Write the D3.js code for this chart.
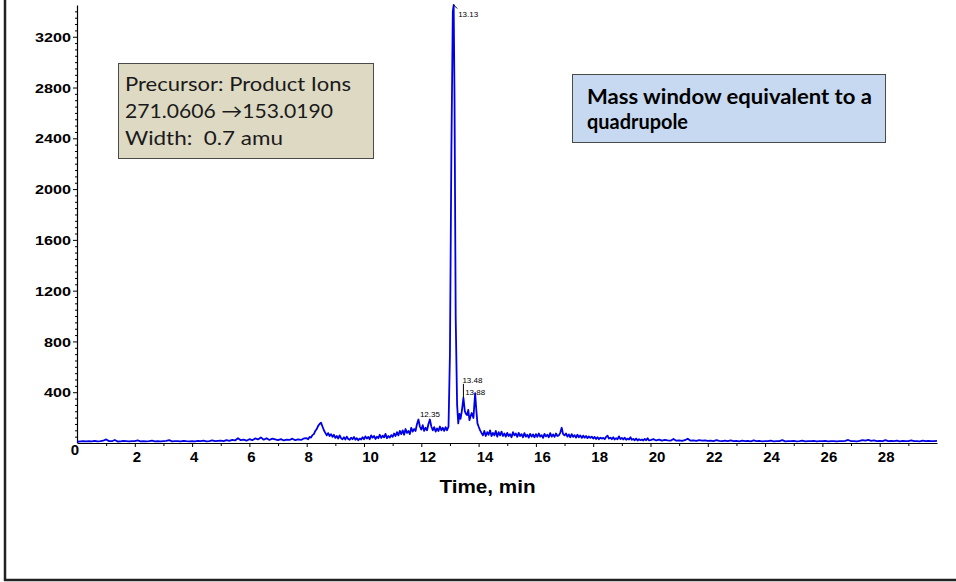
<!DOCTYPE html>
<html>
<head>
<meta charset="utf-8">
<script src="https://cdn.jsdelivr.net/npm/d3@7"></script>
<style>
  html, body { margin: 0; padding: 0; background: #fff; }
  svg { display: block; }
</style>
</head>
<body>
<svg id="chart" width="956" height="582"></svg>
<script>
// ---- data ----
const xTickLabels = [2, 4, 6, 8, 10, 12, 14, 16, 18, 20, 22, 24, 26, 28];
const yTickLabels = [400, 800, 1200, 1600, 2000, 2400, 2800, 3200];

// [time (min), intensity]
const trace = [
[0.0,10],[0.1,12],[0.2,14],[0.3,12],[0.4,15],[0.5,13],[0.6,16],[0.7,12],[0.8,14],[0.9,18],
[1.0,28],[1.1,15],[1.2,14],[1.3,24],[1.4,12],[1.5,13],[1.6,16],[1.7,14],[1.8,12],[1.9,15],
[2.0,14],[2.1,20],[2.2,13],[2.3,15],[2.4,12],[2.5,14],[2.6,18],[2.7,13],[2.8,15],[2.9,12],
[3.0,14],[3.1,16],[3.2,22],[3.3,13],[3.4,15],[3.5,14],[3.6,12],[3.7,16],[3.8,14],[3.9,13],
[4.0,15],[4.1,13],[4.2,16],[4.3,14],[4.4,18],[4.5,13],[4.6,15],[4.7,20],[4.8,14],[4.9,16],
[5.0,18],[5.1,14],[5.2,22],[5.3,16],[5.4,24],[5.5,20],[5.6,38],[5.7,22],[5.8,26],[5.9,18],
[6.0,30],[6.1,22],[6.2,36],[6.3,28],[6.4,44],[6.5,26],[6.6,38],[6.7,24],[6.8,34],[6.9,28],
[7.0,22],[7.1,30],[7.2,20],[7.3,26],[7.4,24],[7.5,34],[7.6,22],[7.7,28],[7.8,24],[7.9,36],
[8.00,38],[8.05,30],[8.10,48],[8.15,42],[8.20,62],[8.25,70],[8.30,95],[8.35,110],[8.40,135],[8.45,150],
[8.50,160],[8.55,130],[8.60,100],[8.65,80],[8.70,60],[8.75,78],[8.80,55],[8.85,70],[8.90,48],[8.95,65],
[9.00,40],[9.05,55],[9.10,35],[9.15,60],[9.20,38],[9.25,30],[9.30,45],[9.35,28],[9.40,50],[9.45,32],
[9.50,25],[9.55,42],[9.60,30],[9.65,48],[9.70,26],[9.75,38],[9.80,22],[9.85,35],[9.90,28],[9.95,45],
[10.00,30],[10.05,52],[10.10,35],[10.15,48],[10.20,30],[10.25,60],[10.30,42],[10.35,55],[10.40,32],[10.45,50],
[10.50,38],[10.55,65],[10.60,40],[10.65,58],[10.70,45],[10.75,72],[10.80,38],[10.85,55],[10.90,42],[10.95,62],
[11.00,48],[11.05,75],[11.10,55],[11.15,85],[11.20,60],[11.25,95],[11.30,70],[11.35,100],[11.40,65],[11.45,110],
[11.50,80],[11.55,95],[11.60,70],[11.65,120],[11.70,90],[11.75,110],[11.80,95],[11.85,150],[11.90,185],[11.95,130],
[12.00,105],[12.05,140],[12.10,95],[12.15,120],[12.20,100],[12.25,150],[12.30,185],[12.35,130],[12.40,100],[12.45,125],
[12.50,90],[12.55,115],[12.60,95],[12.65,130],[12.70,100],[12.75,120],[12.80,95],[12.85,125],[12.90,100],[12.95,130],
[13.00,700],[13.05,2300],[13.10,3400],[13.13,3450],[13.16,2700],[13.20,1000],[13.25,300],[13.29,155],[13.33,230],[13.37,190],
[13.42,260],[13.47,355],[13.52,250],[13.56,230],[13.60,220],[13.64,260],[13.68,180],[13.72,210],[13.76,236],[13.82,197],
[13.85,300],[13.88,392],[13.92,260],[13.96,155],[14.00,130],[14.05,102],
[14.10,80],[14.15,60],[14.20,95],[14.25,55],[14.30,85],[14.35,65],[14.40,100],[14.45,55],[14.50,80],[14.55,60],
[14.60,95],[14.65,50],[14.70,85],[14.75,60],[14.80,90],[14.85,55],[14.90,75],[14.95,50],
[15.00,80],[15.05,55],[15.10,70],[15.15,45],[15.20,85],[15.25,60],[15.30,75],[15.35,48],[15.40,80],[15.45,55],
[15.50,70],[15.55,45],[15.60,78],[15.65,50],[15.70,65],[15.75,42],[15.80,72],[15.85,50],[15.90,68],[15.95,45],
[16.00,70],[16.05,48],[16.10,75],[16.15,50],[16.20,62],[16.25,40],[16.30,72],[16.35,52],[16.40,65],[16.45,45],
[16.50,78],[16.55,50],[16.60,68],[16.65,48],[16.70,75],[16.75,55],[16.80,60],[16.85,80],[16.90,120],[16.95,70],
[17.00,60],[17.05,75],[17.10,50],[17.15,68],[17.20,45],[17.25,70],[17.30,48],[17.35,62],[17.40,42],[17.45,65],
[17.50,45],[17.55,60],[17.60,40],[17.65,58],[17.70,42],[17.75,55],[17.80,38],[17.85,52],[17.90,40],[17.95,50],
[18.00,35],[18.05,48],[18.10,32],[18.15,45],[18.20,30],[18.25,42],[18.30,35],[18.35,40],[18.40,30],[18.45,48],
[18.50,58],[18.55,35],[18.60,42],[18.65,30],[18.70,45],[18.75,28],[18.80,38],[18.85,30],[18.90,52],[18.95,32],
[19.00,40],[19.05,28],[19.10,42],[19.15,25],[19.20,35],[19.25,28],[19.30,45],[19.35,25],[19.40,32],[19.45,22],
[19.50,35],[19.55,20],[19.60,30],[19.65,22],[19.70,28],[19.75,20],[19.80,32],[19.85,22],[19.90,38],[19.95,20],
[20.0,22],[20.1,30],[20.2,20],[20.3,26],[20.4,18],[20.5,24],[20.6,20],[20.7,18],[20.8,32],[20.9,18],
[21.0,20],[21.1,16],[21.2,22],[21.3,34],[21.4,18],[21.5,20],[21.6,16],[21.7,22],[21.8,18],[21.9,20],
[22.0,16],[22.1,18],[22.2,15],[22.3,22],[22.4,16],[22.5,14],[22.6,18],[22.7,15],[22.8,20],[22.9,14],
[23.0,16],[23.1,13],[23.2,18],[23.3,14],[23.4,16],[23.5,13],[23.6,20],[23.7,14],[23.8,16],[23.9,13],
[24.0,15],[24.1,14],[24.2,18],[24.3,13],[24.4,15],[24.5,14],[24.6,22],[24.7,13],[24.8,15],[24.9,14],
[25.0,16],[25.1,13],[25.2,15],[25.3,18],[25.4,13],[25.5,15],[25.6,14],[25.7,16],[25.8,13],[25.9,15],
[26.0,14],[26.1,16],[26.2,13],[26.3,15],[26.4,14],[26.5,13],[26.6,15],[26.7,14],[26.8,16],[26.9,24],
[27.0,14],[27.1,15],[27.2,13],[27.3,16],[27.4,22],[27.5,18],[27.6,24],[27.7,16],[27.8,20],[27.9,15],
[28.0,16],[28.1,14],[28.2,22],[28.3,15],[28.4,16],[28.5,14],[28.6,18],[28.7,13],[28.8,16],[28.9,14],
[29.0,15],[29.1,20],[29.2,14],[29.3,15],[29.4,13],[29.5,18],[29.6,14],[29.7,16],[29.8,15],[29.9,14],[30.0,16]
];

const peakTimes  = [13.13, 13.47, 13.88, 12.30];
const peakValues = [3450, 355, 392, 185];
const peakTexts  = ["13.13", "13.48", "13.88", "12.35"];

const xAxisTitle = "Time, min";
const infoLines = ["Precursor: Product Ions", "271.0606 \u2192153.0190", "Width:  0.7 amu"];
const noteLines = ["Mass window equivalent to a", "quadrupole"];

// ---- drawing ----
const svg = d3.select("#chart");
const x = d3.scaleLinear().domain([0, 30]).range([77.5, 937]);
const y = d3.scaleLinear().domain([0, 3450]).range([443, 5]);
const axisFont = "'Liberation Sans', Arial, sans-serif";

// frame (left and bottom)
svg.append("line").attr("x1", 5).attr("x2", 5).attr("y1", 0).attr("y2", 581)
  .attr("stroke", "#222").attr("stroke-width", 2.5);
svg.append("line").attr("x1", 4).attr("x2", 956).attr("y1", 580).attr("y2", 580)
  .attr("stroke", "#222").attr("stroke-width", 2.5);

// y minor ticks
const yMinor = d3.range(50, 3450, 50).filter(v => v % 400 !== 0);
svg.append("g").attr("transform", "translate(77,0)")
  .call(d3.axisLeft(y).tickValues(yMinor).tickSize(2).tickSizeOuter(0).tickFormat(""))
  .call(g => g.select(".domain").remove())
  .selectAll("line").attr("stroke", "#000");

// y axis
const yAxisG = svg.append("g").attr("transform", "translate(77,0)")
  .call(d3.axisLeft(y).tickValues(yTickLabels).tickFormat(d3.format("d"))
    .tickSize(4).tickPadding(2).tickSizeOuter(0));
yAxisG.select(".domain").attr("stroke", "#000").attr("stroke-width", 1.2);
yAxisG.selectAll("text")
  .attr("font-family", axisFont)
  .attr("font-weight", "bold").attr("font-size", 13).attr("fill", "#000")
  .attr("dy", "0.36em")
  .attr("textLength", d => String(d).length * 9)
  .attr("lengthAdjust", "spacingAndGlyphs");

// x minor ticks
const xMinor = d3.range(1, 30, 2);
svg.append("g").attr("transform", "translate(0,443)")
  .call(d3.axisBottom(x).tickValues(xMinor).tickSize(3).tickSizeOuter(0).tickFormat(""))
  .call(g => g.select(".domain").remove())
  .selectAll("line").attr("stroke", "#000");

// x axis
const xAxisG = svg.append("g").attr("transform", "translate(0,443)")
  .call(d3.axisBottom(x).tickValues(xTickLabels).tickFormat(d3.format("d"))
    .tickSize(4).tickPadding(4.5).tickSizeOuter(0));
xAxisG.select(".domain").attr("stroke", "#000").attr("stroke-width", 1.2);
xAxisG.selectAll("text")
  .attr("font-family", axisFont)
  .attr("font-weight", "bold").attr("font-size", 15).attr("fill", "#000")
  .attr("dx", d => String(d).length > 1 ? 6 : 1.5);

// origin label
svg.append("text")
  .attr("x", x(0) - 2.5).attr("y", y(0) + 12)
  .attr("text-anchor", "middle")
  .attr("font-family", axisFont)
  .attr("font-weight", "bold").attr("font-size", 15).attr("fill", "#000")
  .text("0");

// x axis title
svg.append("text")
  .attr("x", 487.5).attr("y", 493)
  .attr("text-anchor", "middle")
  .attr("font-family", axisFont)
  .attr("font-weight", "bold").attr("font-size", 19).attr("fill", "#000")
  .attr("textLength", 96).attr("lengthAdjust", "spacingAndGlyphs")
  .text(xAxisTitle);

// trace
const line = d3.line().x(d => x(d[0])).y(d => y(d[1]));
svg.append("path").datum(trace)
  .attr("d", line)
  .attr("fill", "none").attr("stroke", "#0000e6")
  .attr("stroke-width", 1.8).attr("stroke-linejoin", "round");

// peak labels
const peakStyle = [
  { dx: 4.5, dy: 12, anchor: "start", lead: [0, 0, 3.5, 3.5] },
  { dx: -1, dy: -15, anchor: "start", lead: [0, 0, 0, -14] },
  { dx: -10, dy: 2, anchor: "start", lead: null },
  { dx: 0, dy: -2.5, anchor: "middle", lead: null }
];
peakTimes.forEach((t, i) => {
  const px = x(t), py = y(peakValues[i]);
  const s = peakStyle[i];
  if (s.lead) {
    svg.append("line")
      .attr("x1", px + s.lead[0]).attr("y1", py + s.lead[1])
      .attr("x2", px + s.lead[2]).attr("y2", py + s.lead[3])
      .attr("stroke", "#000").attr("stroke-width", 1);
  }
  svg.append("text")
    .attr("x", px + s.dx).attr("y", py + s.dy)
    .attr("text-anchor", s.anchor)
    .attr("font-family", axisFont).attr("font-size", 8).attr("fill", "#000")
    .text(peakTexts[i]);
});

// info box (tan)
svg.append("rect").attr("x", 118.5).attr("y", 63.5).attr("width", 255).attr("height", 95)
  .attr("fill", "#ddd9c3").attr("stroke", "#4a4a4a").attr("stroke-width", 1);
const infoBaselines = [91, 117.5, 144.5];
const infoWidths = [226, 208, 158];
infoLines.forEach((t, i) => {
  svg.append("text").attr("x", 125).attr("y", infoBaselines[i])
    .attr("font-family", "Lato, 'Open Sans', sans-serif")
    .attr("font-size", 19).attr("fill", "#1a1a1a")
    .style("white-space", "pre")
    .attr("textLength", infoWidths[i]).attr("lengthAdjust", "spacingAndGlyphs")
    .text(t);
});

// note box (blue)
svg.append("rect").attr("x", 572.5).attr("y", 74.5).attr("width", 313).attr("height", 68)
  .attr("fill", "#c6d9f1").attr("stroke", "#4a4a4a").attr("stroke-width", 1);
const noteBaselines = [104, 129];
const noteWidths = [285, 101];
noteLines.forEach((t, i) => {
  svg.append("text").attr("x", 587).attr("y", noteBaselines[i])
    .attr("font-family", "Lato, 'Open Sans', sans-serif")
    .attr("font-weight", "bold").attr("font-size", 20).attr("fill", "#000")
    .attr("textLength", noteWidths[i]).attr("lengthAdjust", "spacingAndGlyphs")
    .text(t);
});
</script>
</body>
</html>
